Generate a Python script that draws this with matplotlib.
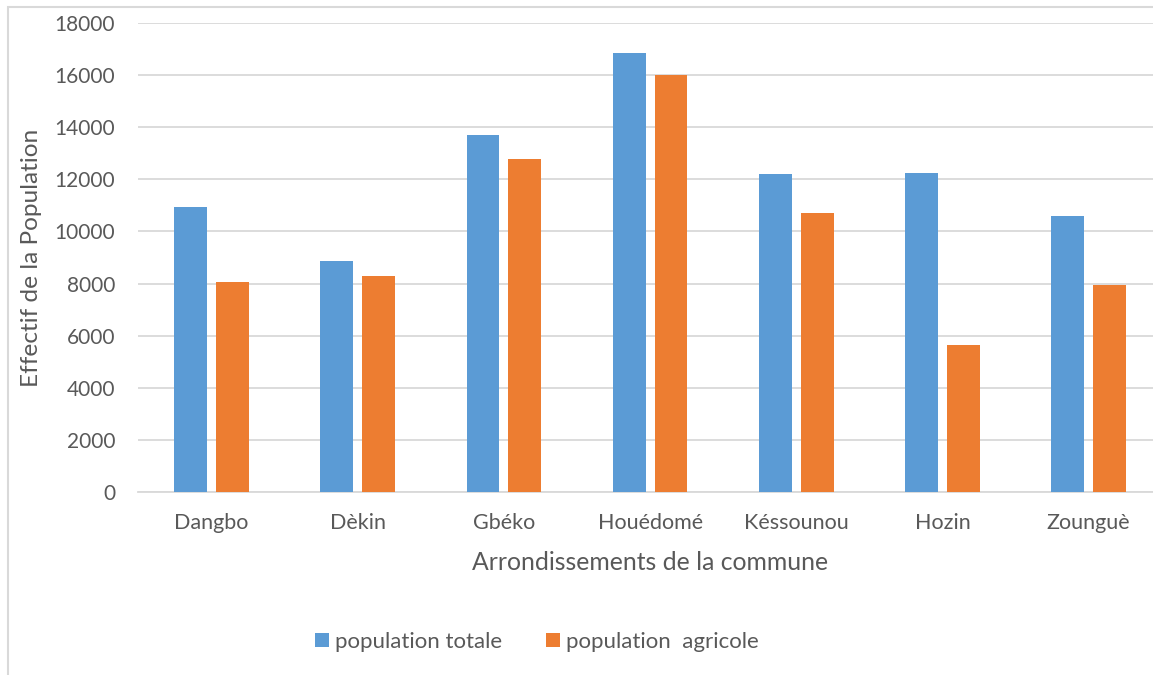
import matplotlib
matplotlib.use('Agg')
import matplotlib.pyplot as plt
from matplotlib.patches import Rectangle
import numpy as np

# valeurs
arrondissements = ['Dangbo', 'Dèkin', 'Gbéko', 'Houédomé', 'Késsounou', 'Hozin', 'Zounguè']
pop_totale = [10930, 8870, 13700, 16850, 12200, 12240, 10590]
pop_agricole = [8050, 8290, 12780, 16000, 10700, 5640, 7940]
yticks = [0, 2000, 4000, 6000, 8000, 10000, 12000, 14000, 16000, 18000]

blue = '#5B9BD5'
orange = '#ED7D31'
grey = '#595959'
grid = '#D9D9D9'

plt.rcParams['font.family'] = ['Lato', 'DejaVu Sans']

W, H = 1153, 675
fig = plt.figure(figsize=(W / 100, H / 100), dpi=100)
ax = fig.add_axes([138.4 / W, 183 / H, (1161.8 - 138.4) / W, 469 / H])

x = np.arange(len(arrondissements))
bw = 0.225
off = 0.143
b1 = ax.bar(x - off, pop_totale, bw, color=blue, label='population totale', zorder=3)
b2 = ax.bar(x + off, pop_agricole, bw, color=orange, label='population  agricole', zorder=3)

ax.set_xlim(-0.5, len(arrondissements) - 0.5)
ax.set_ylim(0, 18000)
ax.set_yticks(yticks)
ax.set_xticks(x)
ax.set_xticklabels(arrondissements)
ax.yaxis.grid(True, color=grid, lw=1.3, zorder=0)
for s in ['top', 'right', 'left']:
    ax.spines[s].set_visible(False)
ax.spines['bottom'].set_color(grid)
ax.spines['bottom'].set_linewidth(1.3)
ax.tick_params(length=0, colors=grey)
ax.tick_params(axis='y', pad=16.8, labelsize=15)
ax.tick_params(axis='x', pad=15, labelsize=15.5)

fig.text(32 / W, 1 - 257.5 / H, 'Effectif de la Population', rotation=90,
         ha='center', va='center', color=grey, fontsize=17.6)
fig.text(650 / W, 1 - 562 / H, 'Arrondissements de la commune',
         ha='center', va='center', color=grey, fontsize=17.8)

leg = fig.legend(handles=[b1, b2], loc='center', bbox_to_anchor=(537 / W, 1 - 642 / H),
                 ncol=2, frameon=False, fontsize=16, handlelength=0.63, handleheight=0.63,
                 handletextpad=0.27, columnspacing=2.0)
for t in leg.get_texts():
    t.set_color(grey)

# cadre du graphique
fig.add_artist(Rectangle((8 / W, -0.1), 1.2, (H - 7) / H + 0.1, transform=fig.transFigure,
                         fill=False, ec=grid, lw=1.5))

fig.savefig('out.png', dpi=100)
